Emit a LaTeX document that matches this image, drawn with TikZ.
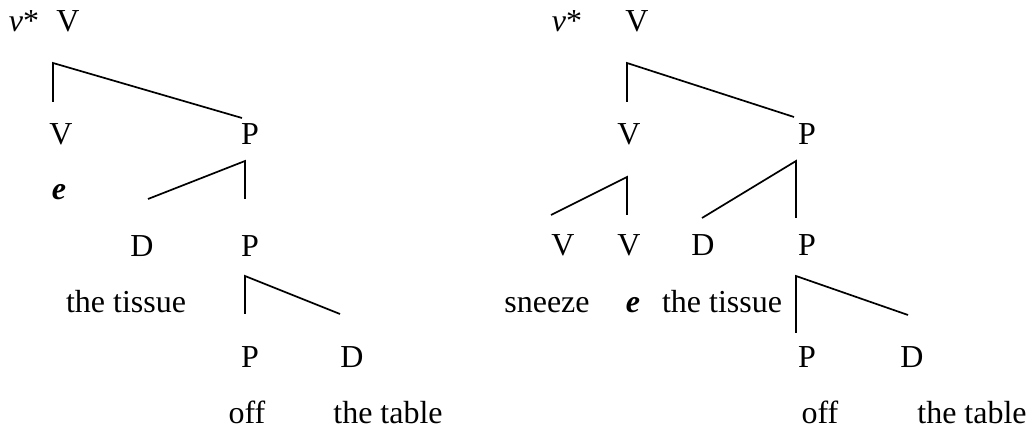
\documentclass[tikz,border=0pt]{standalone}
\usepackage{fontspec}
\setmainfont{Liberation Serif}
\begin{document}
\begin{tikzpicture}[x=1pt,y=-1pt,
  lbl/.style={anchor=base,inner sep=0pt,font=\fontsize{32}{36}\selectfont},
  branch/.style={line width=1.7pt,line join=miter}]
\useasboundingbox (0,0) rectangle (1034,430);
% ---- left tree ----
\node[lbl] (vsL) at (24,32) {\textit{v}*};
\node[lbl] (VtL) at (68,32) {V};
\node[lbl] (VL) at (61,145) {V};
\node[lbl] (PL) at (250,145) {P};
\node[lbl] (eL) at (59,200) {\textbf{\textit{e}}};
\node[lbl] (DL) at (142,257) {D};
\node[lbl] (P2L) at (250,257) {P};
\node[lbl] (tisL) at (126,313) {the tissue};
\node[lbl] (P3L) at (250,368) {P};
\node[lbl] (D3L) at (352,368) {D};
\node[lbl] (offL) at (247,423) {off};
\node[lbl] (tabL) at (388,423) {the table};
\coordinate (a1) at (53,102); \coordinate (a2) at (53,63); \coordinate (a3) at (242,118);
\coordinate (b1) at (148,199); \coordinate (b2) at (245,161); \coordinate (b3) at (245,199);
\coordinate (c1) at (245,314); \coordinate (c2) at (245,276); \coordinate (c3) at (340,314);
\draw[branch] (a1) -- (a2) -- (a3);
\draw[branch] (b1) -- (b2) -- (b3);
\draw[branch] (c1) -- (c2) -- (c3);
% ---- right tree ----
\node[lbl] (vsR) at (567,32) {\textit{v}*};
\node[lbl] (VtR) at (637,32) {V};
\node[lbl] (VR) at (629,145) {V};
\node[lbl] (PR) at (807,145) {P};
\node[lbl] (V1R) at (563,256) {V};
\node[lbl] (V2R) at (629,256) {V};
\node[lbl] (DR) at (703,256) {D};
\node[lbl] (P2R) at (807,256) {P};
\node[lbl] (snR) at (547,313) {sneeze};
\node[lbl] (eR) at (633,313) {\textbf{\textit{e}}};
\node[lbl] (tisR) at (722,313) {the tissue};
\node[lbl] (P3R) at (807,368) {P};
\node[lbl] (D3R) at (912,368) {D};
\node[lbl] (offR) at (820,423) {off};
\node[lbl] (tabR) at (972,423) {the table};
\coordinate (d1) at (627,102); \coordinate (d2) at (627,63); \coordinate (d3) at (794,117);
\coordinate (e1) at (551,215); \coordinate (e2) at (627,177); \coordinate (e3) at (627,215);
\coordinate (f1) at (702,218); \coordinate (f2) at (796,161); \coordinate (f3) at (796,218);
\coordinate (g1) at (796,333); \coordinate (g2) at (796,276); \coordinate (g3) at (908,315);
\draw[branch] (d1) -- (d2) -- (d3);
\draw[branch] (e1) -- (e2) -- (e3);
\draw[branch] (f1) -- (f2) -- (f3);
\draw[branch] (g1) -- (g2) -- (g3);
\end{tikzpicture}
\end{document}
